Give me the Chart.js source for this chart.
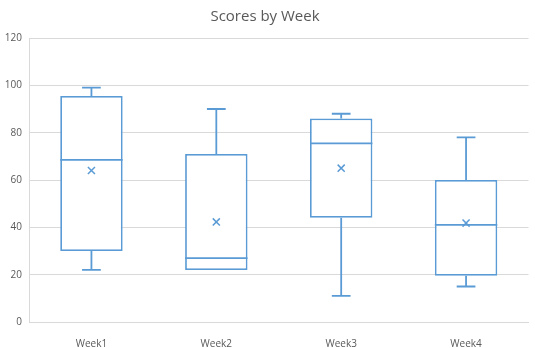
<!DOCTYPE html>
<html>
<head>
<meta charset="utf-8">
<script src="https://cdn.jsdelivr.net/npm/chart.js@4/dist/chart.umd.min.js"></script>
<style>
  body { margin: 0; background: #fff; }
  #wrap { width: 535px; height: 348px; }
</style>
</head>
<body>
<div id="wrap"><canvas id="myChart" width="535" height="348"></canvas></div>
<script>
// Box plot values
let weeks = ['Week1', 'Week2', 'Week3', 'Week4'];
let minVals = [22, 22, 11, 15];
let q1Vals = [30, 22, 44, 19.5];
let medianVals = [68.5, 27, 75.5, 41];
let q3Vals = [95.5, 71, 86, 60];
let maxVals = [99, 90, 88, 78];
let meanVals = [64, 42.3, 65, 41.8];
let yTicks = [0, 20, 40, 60, 80, 100, 120];

let blue = '#5B9BD5';
let grey = '#595959';
let fontFamily = "'Open Sans', 'Liberation Sans', sans-serif";

// whiskers and median lines, drawn with the chart's own scales
const boxLines = {
    id: 'boxLines',
    afterDatasetsDraw(chart) {
        let ctx = chart.ctx;
        let x = chart.scales.x;
        let y = chart.scales.y;
        let bars = chart.getDatasetMeta(0).data;
        ctx.save();
        ctx.strokeStyle = blue;
        ctx.lineWidth = 1.8;
        weeks.forEach((w, i) => {
            let cx = x.getPixelForValue(i);
            let half = bars[i].width / 2;
            let cap = half * 0.3;
            let yMin = y.getPixelForValue(minVals[i]);
            let yQ1 = y.getPixelForValue(q1Vals[i]);
            let yQ3 = y.getPixelForValue(q3Vals[i]);
            let yMax = y.getPixelForValue(maxVals[i]);
            let yMed = y.getPixelForValue(medianVals[i]);
            ctx.beginPath();
            // upper whisker
            ctx.moveTo(cx, yQ3); ctx.lineTo(cx, yMax);
            ctx.moveTo(cx - cap, yMax); ctx.lineTo(cx + cap, yMax);
            // lower whisker
            if (minVals[i] < q1Vals[i]) {
                ctx.moveTo(cx, yQ1); ctx.lineTo(cx, yMin);
                ctx.moveTo(cx - cap, yMin); ctx.lineTo(cx + cap, yMin);
            }
            // median
            ctx.moveTo(cx - half, yMed); ctx.lineTo(cx + half, yMed);
            ctx.stroke();
        });
        ctx.restore();
    }
};

let ctx = document.getElementById('myChart').getContext('2d');
let myChart = new Chart(ctx, {
    type: 'bar',
    data: {
        labels: weeks,
        datasets: [{
            label: 'Box',
            data: weeks.map((w, i) => [q1Vals[i], q3Vals[i]]),
            backgroundColor: '#ffffff',
            borderColor: blue,
            borderWidth: 1.8,
            borderSkipped: false,
            barPercentage: 1,
            categoryPercentage: 0.5,
            order: 2
        }, {
            label: 'Mean',
            type: 'line',
            data: meanVals,
            showLine: false,
            pointStyle: 'crossRot',
            pointRadius: 5,
            pointBorderColor: blue,
            pointBorderWidth: 1.5,
            order: 1
        }]
    },
    options: {
        responsive: false,
        animation: false,
        layout: { padding: { left: 0, right: 5, top: 0, bottom: 0 } },
        plugins: {
            legend: { display: false },
            tooltip: { enabled: false },
            title: {
                display: true,
                text: 'Scores by Week',
                color: grey,
                font: { family: fontFamily, size: 15, weight: 'normal' },
                padding: { top: 8, bottom: 12 }
            }
        },
        scales: {
            x: {
                grid: { display: false },
                border: { color: '#d9d9d9' },
                ticks: { color: grey, font: { family: fontFamily, size: 10 }, padding: 8 },
                afterFit(scale) { scale.height = 26; }
            },
            y: {
                min: 0,
                max: 120,
                afterBuildTicks(scale) { scale.ticks = yTicks.map(v => ({ value: v })); },
                grid: { color: '#d9d9d9', drawTicks: false },
                border: { color: '#d9d9d9' },
                ticks: { color: grey, font: { family: fontFamily, size: 10 }, padding: 7 },
                afterFit(scale) { scale.width = 29; }
            }
        }
    },
    plugins: [boxLines]
});
</script>
</body>
</html>
